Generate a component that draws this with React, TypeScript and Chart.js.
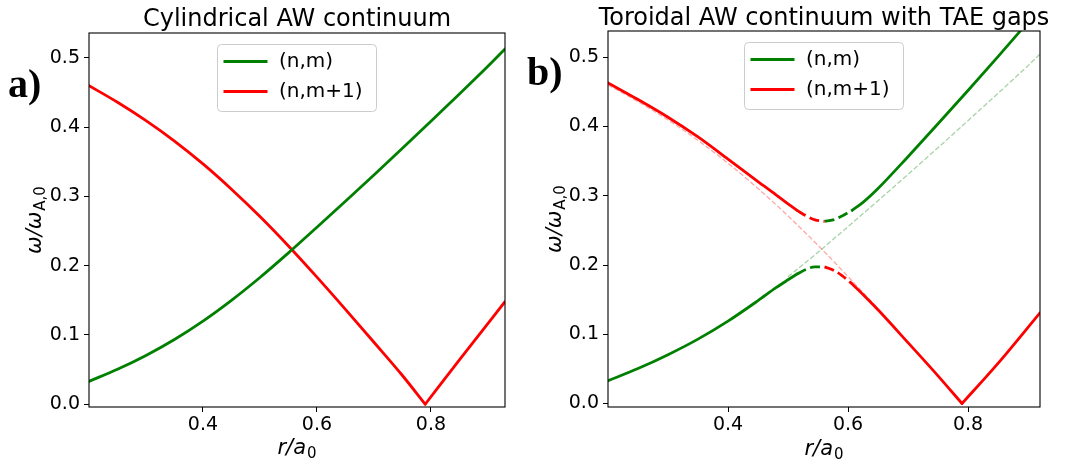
import React, { useEffect, useRef } from 'react';
import { Chart, registerables } from 'chart.js';

Chart.register(...registerables);

const W = 1076;
const H = 467;

// ---------- tick labels ----------
const X_TICKS = [0.4, 0.6, 0.8];
const Y_TICKS = [0.0, 0.1, 0.2, 0.3, 0.4, 0.5];

// ---------- texts ----------
const TITLE_A = 'Cylindrical AW continuum';
const TITLE_B = 'Toroidal AW continuum with TAE gaps';
const LEGEND_LABELS = ['(n,m)', '(n,m+1)'];
const X_LABEL_MAIN = 'r/a';
const X_LABEL_SUB = '0';
const Y_LABEL_MAIN = 'ω/ω';
const Y_LABEL_SUB = 'A,0';

// ---------- panel a: cylindrical continuum ----------
const R_NM = [0.2, 0.25, 0.3, 0.35, 0.4, 0.45, 0.5, 0.55, 0.6, 0.65, 0.7, 0.75, 0.8, 0.85, 0.9, 0.93];
const CYL_NM = [0.033, 0.0505, 0.0705, 0.0935, 0.12, 0.15, 0.183, 0.2185, 0.2555, 0.293, 0.331, 0.3695, 0.4085, 0.448, 0.488, 0.513];
const R_NM1_IN = [0.2, 0.25, 0.3, 0.35, 0.4, 0.45, 0.5, 0.55, 0.6, 0.65, 0.7, 0.75, 0.79];
const CYL_NM1_IN = [0.46, 0.436, 0.4095, 0.38, 0.347, 0.3105, 0.271, 0.2285, 0.1835, 0.137, 0.0895, 0.0415, 0.0];
const R_NM1_OUT = [0.79, 0.85, 0.93];
const CYL_NM1_OUT = [0.0, 0.064, 0.148];

// ---------- panel b: toroidal continuum ----------
const R_UP_RED = [0.2, 0.25, 0.3, 0.35, 0.4, 0.45, 0.48, 0.5, 0.515];
const UP_RED = [0.463, 0.439, 0.4135, 0.385, 0.353, 0.3205, 0.3015, 0.2884, 0.279];
const R_UP_RED_GAP = [0.515, 0.53, 0.545, 0.561];
const UP_RED_GAP = [0.279, 0.2711, 0.2653, 0.2631];
const R_UP_GREEN_GAP = [0.561, 0.575, 0.59, 0.607];
const UP_GREEN_GAP = [0.2631, 0.2652, 0.2708, 0.2791];
const R_UP_GREEN = [0.607, 0.625, 0.65, 0.7, 0.75, 0.8, 0.85, 0.9];
const UP_GREEN = [0.2791, 0.2905, 0.3105, 0.3565, 0.404, 0.452, 0.501, 0.551];

const R_LO_GREEN = [0.2, 0.25, 0.3, 0.35, 0.4, 0.45, 0.48, 0.5, 0.515];
const LO_GREEN = [0.033, 0.0505, 0.0705, 0.093, 0.119, 0.1486, 0.1673, 0.1787, 0.187];
const R_LO_GREEN_GAP = [0.515, 0.53, 0.545, 0.561];
const LO_GREEN_GAP = [0.187, 0.1937, 0.1975, 0.1973];
const R_LO_RED_GAP = [0.561, 0.575, 0.59, 0.607];
const LO_RED_GAP = [0.1973, 0.1928, 0.1848, 0.1727];
const R_LO_RED = [0.607, 0.625, 0.65, 0.7, 0.75, 0.79];
const LO_RED = [0.1727, 0.1576, 0.1354, 0.088, 0.04, 0.0];
const R_LO_RED_OUT = [0.79, 0.85, 0.92];
const LO_RED_OUT = [0.0, 0.058, 0.131];

// ---------- styles ----------
const GREEN = '#008000';
const RED = '#ff0000';
const GREEN_FAINT = 'rgba(0,128,0,0.35)';
const RED_FAINT = 'rgba(255,0,0,0.35)';
const FONT = '"DejaVu Sans"';

function pts(xs: number[], ys: number[]) {
  return xs.map((x, i) => ({ x, y: ys[i] }));
}

function ds(data: any[], color: string, kind: 'solid' | 'dash' | 'faint') {
  return {
    data,
    borderColor: color,
    backgroundColor: color,
    borderWidth: kind === 'faint' ? 1.3 : 2.8,
    borderDash: kind === 'dash' ? [10, 4.5] : kind === 'faint' ? [5, 2.2] : [],
    borderCapStyle: kind === 'solid' ? 'round' : 'butt',
    pointRadius: 0,
    fill: false,
    cubicInterpolationMode: 'monotone',
  };
}

function drawSub(ctx: CanvasRenderingContext2D, x: number, y: number, main: string, sub: string, size: number, subSize: number, drop: number) {
  ctx.font = `italic ${size}px ${FONT}`;
  const w1 = ctx.measureText(main).width;
  ctx.font = `${subSize}px ${FONT}`;
  const w2 = ctx.measureText(sub).width;
  const start = x - (w1 + w2 + 1) / 2;
  ctx.textAlign = 'left';
  ctx.textBaseline = 'alphabetic';
  ctx.font = `italic ${size}px ${FONT}`;
  ctx.fillText(main, start, y);
  ctx.font = `${subSize}px ${FONT}`;
  ctx.fillText(sub, start + w1 + 1, y + drop);
}

const decor = {
  id: 'decor',
  afterDraw(chart: any, _args: any, o: any) {
    const { ctx, chartArea: a } = chart;
    const cx = (a.left + a.right) / 2;
    ctx.save();
    // frame
    ctx.strokeStyle = '#000';
    ctx.lineWidth = 1.1;
    ctx.strokeRect(a.left, a.top, a.right - a.left, a.bottom - a.top);
    // title
    ctx.fillStyle = '#000';
    ctx.font = `24px ${FONT}`;
    ctx.textAlign = 'center';
    ctx.textBaseline = 'alphabetic';
    ctx.fillText(o.title, cx, o.titleY);
    // axis titles
    drawSub(ctx, cx, o.xTitleY, X_LABEL_MAIN, X_LABEL_SUB, 21, 15, 4);
    ctx.save();
    ctx.translate(o.yTitleX, (a.top + a.bottom) / 2);
    ctx.rotate(-Math.PI / 2);
    drawSub(ctx, 0, 0, Y_LABEL_MAIN, Y_LABEL_SUB, 21, 15, 4);
    ctx.restore();
    // legend
    const lw = 159;
    const lh = 67;
    const lx = cx - lw / 2;
    const ly = o.legendTop;
    ctx.beginPath();
    ctx.roundRect(lx, ly, lw, lh, 4);
    ctx.fillStyle = 'rgba(255,255,255,0.8)';
    ctx.fill();
    ctx.strokeStyle = '#cccccc';
    ctx.lineWidth = 1;
    ctx.stroke();
    const colors = [GREEN, RED];
    LEGEND_LABELS.forEach((lab, i) => {
      const y = ly + 17 + i * 30;
      ctx.beginPath();
      ctx.strokeStyle = colors[i];
      ctx.lineWidth = 2.8;
      ctx.moveTo(lx + 6, y);
      ctx.lineTo(lx + 50, y);
      ctx.stroke();
      ctx.fillStyle = '#000';
      ctx.font = `20px ${FONT}`;
      ctx.textAlign = 'left';
      ctx.textBaseline = 'middle';
      ctx.fillText(lab, lx + 61.5, y);
    });
    // panel label
    ctx.fillStyle = '#000';
    ctx.font = 'bold 40px "Liberation Serif"';
    ctx.textAlign = 'left';
    ctx.textBaseline = 'alphabetic';
    ctx.fillText(o.label, o.labelX, o.labelY);
    ctx.restore();
  },
};

function makeConfig(p: any, datasets: any[]) {
  return {
    type: 'line',
    data: { datasets },
    options: {
      responsive: false,
      animation: false,
      devicePixelRatio: 1,
      events: [],
      layout: { padding: { left: 0, top: p.area.top, right: W - p.area.right, bottom: 0 } },
      plugins: {
        legend: { display: false },
        tooltip: { enabled: false },
        title: { display: false },
        decor: p,
      },
      scales: {
        x: {
          type: 'linear',
          min: 0.2,
          max: p.xMax,
          afterFit: (s: any) => { s.height = H - p.area.bottom; },
          afterBuildTicks: (s: any) => { s.ticks = X_TICKS.map((v) => ({ value: v })); },
          ticks: {
            autoSkip: false,
            maxRotation: 0,
            padding: 2,
            color: '#000',
            font: { size: 19, family: FONT },
            callback: (v: any) => Number(v).toFixed(1),
          },
          grid: { drawOnChartArea: false, drawTicks: true, tickLength: 5, color: '#000', lineWidth: 1 },
          border: { display: false },
        },
        y: {
          type: 'linear',
          min: p.yMin,
          max: p.yMax,
          afterFit: (s: any) => { s.width = p.area.left; },
          afterBuildTicks: (s: any) => { s.ticks = Y_TICKS.map((v) => ({ value: v })); },
          ticks: {
            autoSkip: false,
            padding: 4,
            color: '#000',
            font: { size: 19, family: FONT },
            callback: (v: any) => Number(v).toFixed(1),
          },
          grid: { drawOnChartArea: false, drawTicks: true, tickLength: 5, color: '#000', lineWidth: 1 },
          border: { display: false },
        },
      },
    },
    plugins: [decor],
  } as any;
}

const PANEL_A = {
  area: { left: 89, right: 505, top: 33, bottom: 407 },
  xMax: 0.93, yMin: -0.004, yMax: 0.536,
  title: TITLE_A, titleY: 25.8, xTitleY: 454, yTitleX: 40.5, legendTop: 44.5,
  label: 'a)', labelX: 8, labelY: 97,
};
const PANEL_B = {
  area: { left: 608, right: 1040, top: 31, bottom: 407 },
  xMax: 0.92, yMin: -0.005, yMax: 0.538,
  title: TITLE_B, titleY: 24.5, xTitleY: 454.5, yTitleX: 561, legendTop: 42.5,
  label: 'b)', labelX: 527, labelY: 85,
};

export default function App() {
  const refA = useRef<HTMLCanvasElement>(null);
  const refB = useRef<HTMLCanvasElement>(null);

  useEffect(() => {
    const dsA = [
      ds(pts(R_NM, CYL_NM), GREEN, 'solid'),
      ds(pts(R_NM1_IN, CYL_NM1_IN), RED, 'solid'),
      ds(pts(R_NM1_OUT, CYL_NM1_OUT), RED, 'solid'),
    ];
    const faintRed = pts(R_NM1_IN, CYL_NM1_IN).filter((p) => p.x <= 0.65);
    const faintGreen = pts(R_NM, CYL_NM).filter((p) => p.x >= 0.5);
    const dsB = [
      ds(faintRed, RED_FAINT, 'faint'),
      ds(faintGreen, GREEN_FAINT, 'faint'),
      ds(pts(R_UP_RED, UP_RED), RED, 'solid'),
      ds(pts(R_UP_RED_GAP, UP_RED_GAP), RED, 'dash'),
      ds(pts(R_UP_GREEN_GAP, UP_GREEN_GAP), GREEN, 'dash'),
      ds(pts(R_UP_GREEN, UP_GREEN), GREEN, 'solid'),
      ds(pts(R_LO_GREEN, LO_GREEN), GREEN, 'solid'),
      ds(pts(R_LO_GREEN_GAP, LO_GREEN_GAP), GREEN, 'dash'),
      ds(pts(R_LO_RED_GAP, LO_RED_GAP), RED, 'dash'),
      ds(pts(R_LO_RED, LO_RED), RED, 'solid'),
      ds(pts(R_LO_RED_OUT, LO_RED_OUT), RED, 'solid'),
    ];
    const a = new Chart(refA.current as HTMLCanvasElement, makeConfig(PANEL_A, dsA));
    const b = new Chart(refB.current as HTMLCanvasElement, makeConfig(PANEL_B, dsB));
    return () => {
      a.destroy();
      b.destroy();
    };
  }, []);

  const cs: React.CSSProperties = { position: 'absolute', left: 0, top: 0, width: W, height: H };
  return (
    <div style={{ position: 'fixed', left: 0, top: 0, width: W, height: H, background: '#fff' }}>
      <canvas ref={refA} width={W} height={H} style={cs} />
      <canvas ref={refB} width={W} height={H} style={cs} />
    </div>
  );
}
